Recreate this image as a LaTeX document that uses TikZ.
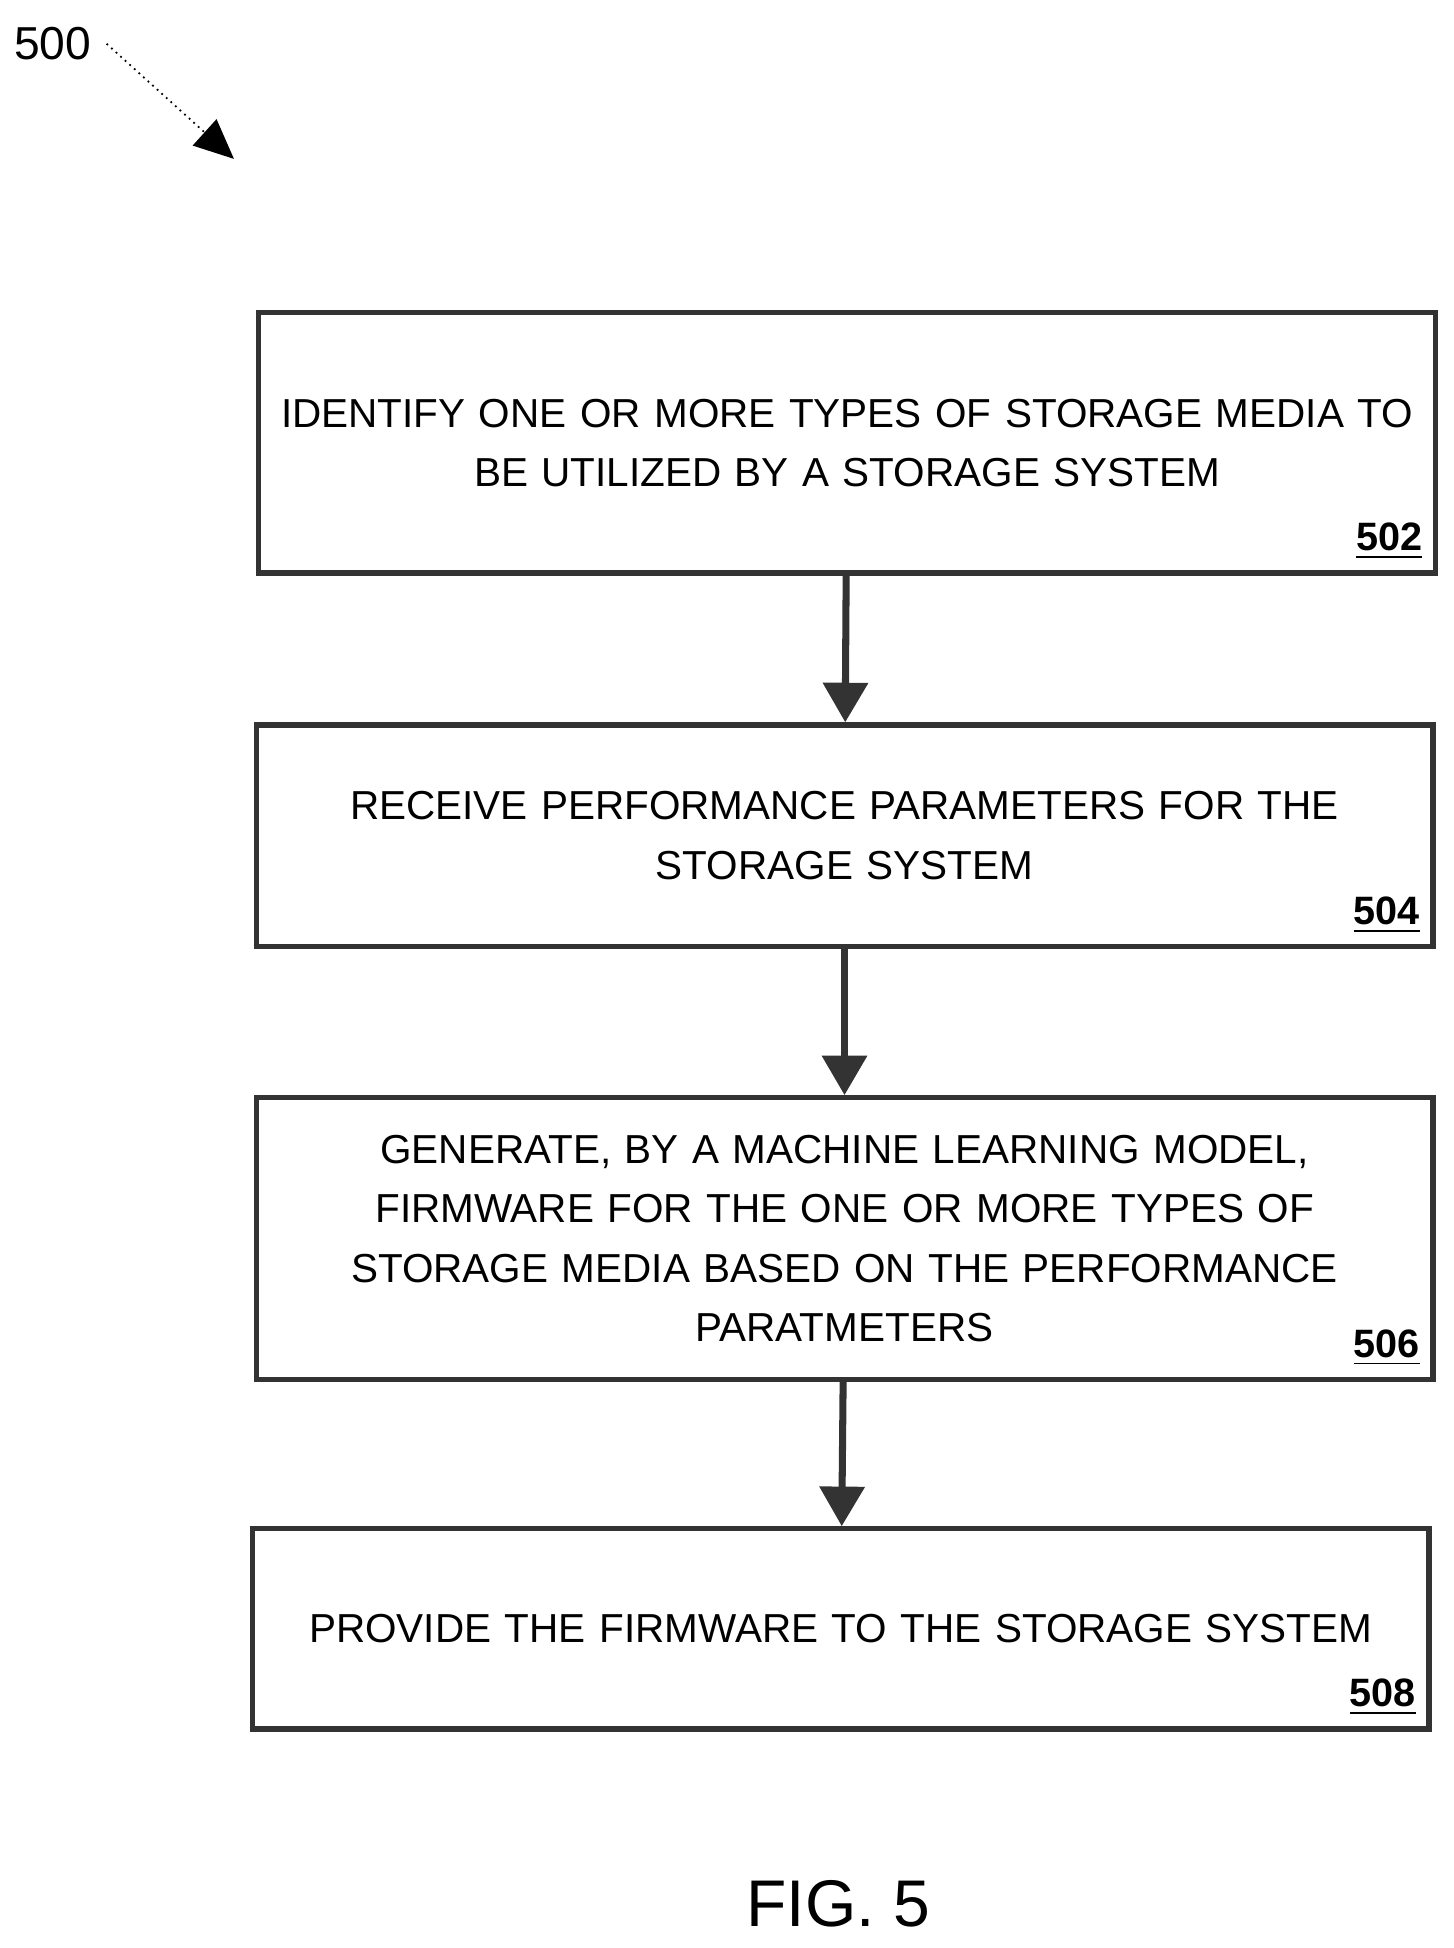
\documentclass[tikz,border=0pt]{standalone}
\usepackage{fontspec}
\setmainfont{Liberation Sans}
\usetikzlibrary{positioning,arrows.meta}

\begin{document}
\begin{tikzpicture}[x=0.01cm,y=-0.01cm,
    stepbox/.style={rectangle, draw=black!80, line width=1.2pt, minimum width=9.4cm, text width=9.2cm, align=center, font=\fontsize{9.2}{13.5}\selectfont, inner sep=0pt},
    ref/.style={anchor=south east, font=\fontsize{9}{11}\selectfont\bfseries, inner sep=0pt},
    arrow/.style={-{Triangle[length=9pt,width=10pt]}, line width=1.6pt, draw=black!80}
]
\useasboundingbox (0,0) rectangle (1162,1557);

% Figure number and pointer
\node (num) at (42,35) {\fontsize{10.5}{12}\selectfont 500};
\coordinate (tip) at (187,127);
\draw[densely dotted, -{Triangle[length=9pt,width=8pt]}, thin] (num.east) -- (tip);

% Steps
\node[stepbox, minimum height=2.08cm] (s502) at (677,354) {IDENTIFY ONE OR MORE TYPES OF STORAGE MEDIA TO\\BE UTILIZED BY A STORAGE SYSTEM\\[-4pt]};
\node[stepbox, minimum height=1.77cm] (s504) at (675,668) {RECEIVE PERFORMANCE PARAMETERS FOR THE\\STORAGE SYSTEM\\[-4pt]};
\node[stepbox, minimum height=2.25cm] (s506) at (675,990) {GENERATE, BY A MACHINE LEARNING MODEL,\\FIRMWARE FOR THE ONE OR MORE TYPES OF\\STORAGE MEDIA BASED ON THE PERFORMANCE\\PARATMETERS};
\node[stepbox, minimum height=1.60cm] (s508) at (672,1302) {PROVIDE THE FIRMWARE TO THE STORAGE SYSTEM};

% Reference numerals
\node[ref] at ([shift={(-12,-12)}]s502.south east) {\underline{502}};
\node[ref] at ([shift={(-12,-12)}]s504.south east) {\underline{504}};
\node[ref] at ([shift={(-12,-12)}]s506.south east) {\underline{506}};
\node[ref] at ([shift={(-12,-12)}]s508.south east) {\underline{508}};

% Arrows
\draw[arrow] (s502) -- (s504);
\draw[arrow] (s504) -- (s506);
\draw[arrow] (s506) -- (s508);

% Caption
\node (fig) at (670,1522) {\fontsize{15}{18}\selectfont FIG. 5};
\end{tikzpicture}
\end{document}
